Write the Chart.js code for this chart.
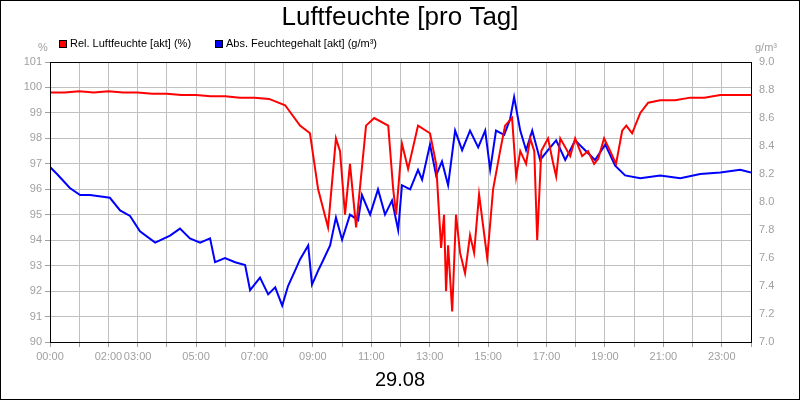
<!DOCTYPE html>
<html><head><meta charset="utf-8">
<script src="https://cdn.jsdelivr.net/npm/chart.js@4"></script>
<style>body{margin:0;background:#fff}#w{width:800px;height:400px;position:relative}
#b{position:absolute;left:0;top:0;width:798px;height:398px;border:1px solid #000;pointer-events:none}</style>
</head><body><div id="w"><canvas id="c" width="800" height="400"></canvas><div id="b"></div></div>
<script>
// Relative Luftfeuchte (%) – Zeit in Stunden
const relT=[0,0.5,1,1.5,2,2.5,3,3.5,4,4.5,5,5.5,6,6.5,7,7.5,8.05,8.56,8.9,9.18,9.52,9.79,9.93,10.1,10.27,10.48,10.82,11.1,11.58,11.75,11.85,12.05,12.26,12.6,13.01,13.22,13.39,13.49,13.56,13.63,13.77,13.9,14.04,14.21,14.38,14.52,14.69,14.97,15.17,15.41,15.58,15.82,15.96,16.1,16.3,16.44,16.58,16.68,16.82,17.05,17.23,17.33,17.47,17.81,17.98,18.22,18.42,18.63,18.77,18.97,19.18,19.38,19.59,19.73,19.93,20.21,20.48,20.89,21.4,21.92,22.4,22.95,23.5,24];
const relV=[99.8,99.8,99.85,99.8,99.85,99.8,99.8,99.75,99.75,99.7,99.7,99.65,99.65,99.6,99.6,99.55,99.3,98.5,98.2,96,94.5,98,97.5,95,97,94.5,98.5,98.8,98.5,96,95,97.8,96.8,98.5,98.2,97,93.7,95,92,93.8,91.2,95,93.5,92.7,94.2,93.5,95.8,93.3,96,97.5,98.5,98.8,96.5,97.5,97,98,97.5,94,97.5,98,97,96.5,98,97.3,98,97.3,97.5,97,97.2,98,97.5,97,98.3,98.5,98.2,99,99.4,99.5,99.5,99.6,99.6,99.7,99.7,99.7];
// Absoluter Feuchtegehalt (g/m³)
const absT=[0,0.24,0.68,1.03,1.37,2.05,2.4,2.74,3.08,3.6,4.11,4.45,4.79,5.14,5.48,5.65,5.99,6.34,6.68,6.85,7.19,7.47,7.71,7.95,8.15,8.39,8.56,8.84,8.97,9.18,9.32,9.59,9.79,10,10.27,10.55,10.68,10.96,11.23,11.47,11.71,11.92,12.05,12.33,12.6,12.74,13.01,13.22,13.42,13.63,13.87,14.11,14.38,14.66,14.9,15.07,15.27,15.55,15.75,15.89,16.1,16.3,16.51,16.78,17.05,17.33,17.64,17.98,18.32,18.66,19.01,19.35,19.69,20.21,20.89,21.58,22.26,22.95,23.63,24];
const absV=[8.25,8.2,8.1,8.05,8.05,8.03,7.94,7.9,7.79,7.71,7.76,7.81,7.74,7.71,7.74,7.57,7.6,7.57,7.55,7.37,7.46,7.34,7.39,7.26,7.4,7.51,7.59,7.69,7.41,7.51,7.57,7.69,7.89,7.73,7.91,7.87,8.05,7.91,8.09,7.91,8.01,7.8,8.12,8.09,8.23,8.16,8.41,8.19,8.29,8.12,8.51,8.37,8.51,8.39,8.51,8.23,8.51,8.48,8.59,8.75,8.51,8.37,8.51,8.3,8.37,8.44,8.3,8.44,8.37,8.3,8.41,8.26,8.19,8.17,8.19,8.17,8.2,8.21,8.23,8.21];
const hourLabels=[0,2,3,5,7,9,11,13,15,17,19,21,23];

const pts=(t,v)=>t.map((x,i)=>({x,y:v[i]}));
const gridCol="#c0c0c0", tickCol="#a0a0a0";
const deco={id:"deco",afterDraw(ch){const c=ch.ctx,a=ch.chartArea;c.save();
  c.fillStyle="#000";c.font="26px Arial, 'Liberation Sans'";c.textAlign="center";c.textBaseline="middle";
  c.fillText("Luftfeuchte [pro Tag]",400,18);
  c.font="20px Arial, 'Liberation Sans'";c.fillText("29.08",400,380);
  c.font="11px Arial, 'Liberation Sans'";c.fillStyle=tickCol;c.textAlign="center";
  c.fillText("%",43,48);c.fillText("g/m³",766,48);
  const leg=[["Rel. Luftfeuchte [akt] (%)","#ff0000",59],["Abs. Feuchtegehalt [akt] (g/m³)","#0000ff",215]];
  leg.forEach(([t,col,x])=>{c.fillStyle=col;c.fillRect(x,40,8,8);c.strokeStyle="#000";c.lineWidth=1;c.strokeRect(x+.5,40.5,7,7);
    c.fillStyle="#000";c.textAlign="left";c.fillText(t,x+11,44);});
  c.strokeStyle="#000";c.lineWidth=1;c.strokeRect(a.left+.5,a.top+.5,a.right-a.left,a.bottom-a.top);
  c.restore();}};
new Chart(document.getElementById("c"),{type:"line",
  data:{datasets:[
    {data:pts(relT,relV),yAxisID:"y",borderColor:"#ff0000",borderWidth:2,pointRadius:0,tension:0},
    {data:pts(absT,absV),yAxisID:"y1",borderColor:"#0000ff",borderWidth:2,pointRadius:0,tension:0}]},
  options:{responsive:false,animation:false,events:[],
    layout:{padding:{top:62,left:0,right:0,bottom:0}},
    plugins:{legend:{display:false},tooltip:{enabled:false}},
    scales:{
      x:{type:"linear",min:0,max:24,afterFit:s=>{s.height=58},
        afterBuildTicks:s=>{s.ticks=[];for(let h=0;h<=24;h++)s.ticks.push({value:h});},
        grid:{color:gridCol,tickLength:5,tickColor:tickCol},border:{color:"#000"},
        ticks:{autoSkip:false,maxRotation:0,color:tickCol,font:{size:11,family:"Arial"},
          callback:v=>hourLabels.includes(v)?String(v).padStart(2,"0")+":00":""}},
      y:{position:"left",min:90,max:101,afterFit:s=>{s.width=50},
        grid:{color:gridCol,tickLength:5,tickColor:tickCol},border:{color:"#000"},
        ticks:{stepSize:1,color:tickCol,font:{size:11,family:"Arial"}}},
      y1:{position:"right",min:7,max:9,afterFit:s=>{s.width=49},
        grid:{display:false,tickLength:5},border:{color:"#000"},
        ticks:{stepSize:0.2,color:tickCol,font:{size:11,family:"Arial"},callback:v=>v.toFixed(1)}}}},
  plugins:[deco]});
</script></body></html>
